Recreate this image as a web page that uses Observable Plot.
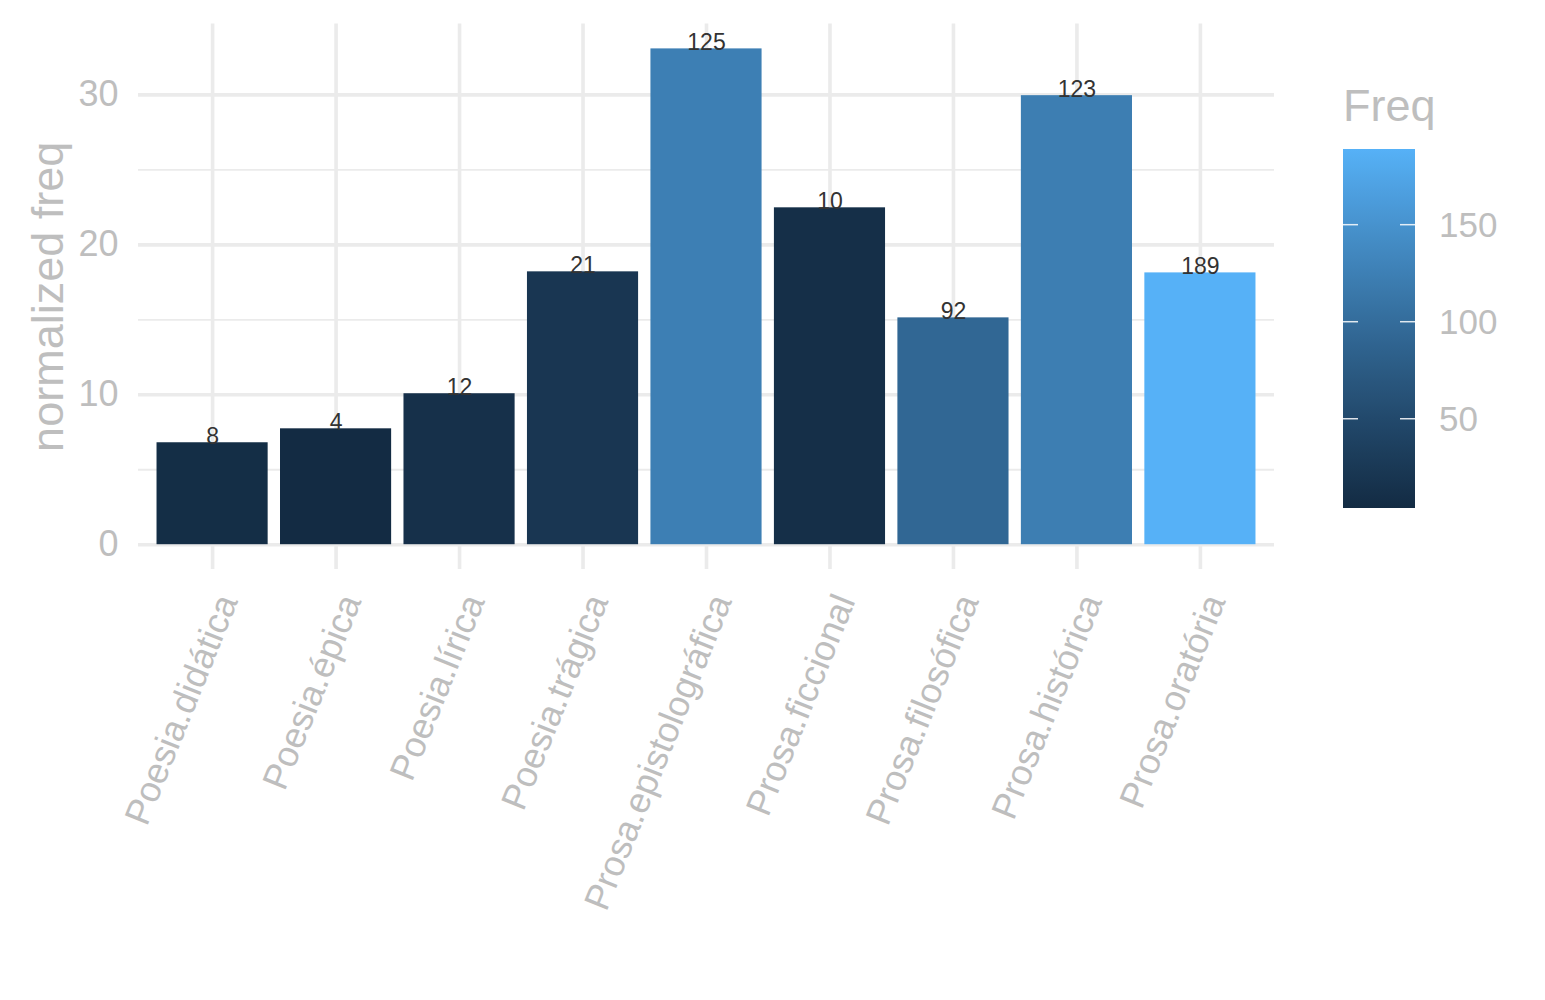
<!DOCTYPE html>
<html>
<head>
<meta charset="utf-8">
<script src="https://cdn.jsdelivr.net/npm/d3@7"></script>
<script src="https://cdn.jsdelivr.net/npm/@observablehq/plot@0.6"></script>
<style>
  html, body { margin: 0; padding: 0; background: #fff; }
  #wrap { position: relative; width: 1545px; height: 1000px; font-family: "Liberation Sans", Arial, Helvetica, sans-serif; }
  #wrap svg { position: absolute; left: 0; top: 0; }
</style>
</head>
<body>
<div id="wrap"></div>
<script>
const categories = ["Poesia.didática","Poesia.épica","Poesia.lírica","Poesia.trágica","Prosa.epistolográfica","Prosa.ficcional","Prosa.filosófica","Prosa.histórica","Prosa.oratória"];
const normFreq = [6.8, 7.73, 10.07, 18.2, 33.07, 22.47, 15.13, 29.95, 18.13];
const freq = [8, 4, 12, 21, 125, 10, 92, 123, 189];
const yTicks = [0, 10, 20, 30];
const yMinor = [5, 15, 25];
const legendTicks = [50, 100, 150];

const data = categories.map((c, i) => ({cat: c, y: normFreq[i], freq: freq[i]}));
const grey = "#BEBEBE";
const gridCol = "#EBEBEB";
const colorDomain = [d3.min(freq), d3.max(freq)];
const colorRange = ["#132B43", "#56B1F7"];

const W = 1545, H = 1000;
const mL = 138, mR = W - 1274, mT = 23.6, mB = H - 569;
const yMax = d3.max(normFreq), yPad = yMax * 0.05;

const chart = Plot.plot({
  width: W, height: H,
  marginLeft: mL, marginRight: mR, marginTop: mT, marginBottom: mB,
  style: {fontFamily: '"Liberation Sans", Arial, Helvetica, sans-serif', background: "transparent"},
  x: {type: "band", domain: categories, paddingInner: 0.1, paddingOuter: 0.15, round: false, label: null},
  y: {domain: [-yPad, yMax + yPad], label: null},
  color: {type: "linear", domain: colorDomain, range: colorRange, interpolate: "lab"},
  marks: [
    Plot.ruleY(yMinor, {stroke: gridCol, strokeWidth: 1.8}),
    Plot.ruleY(yTicks, {stroke: gridCol, strokeWidth: 3.6}),
    Plot.ruleX(categories, {x: d => d, stroke: gridCol, strokeWidth: 3.6}),
    Plot.barY(data, {x: "cat", y: "y", fill: "freq"}),
    Plot.text(data, {x: "cat", y: "y", text: d => String(d.freq), lineAnchor: "bottom", dy: 1, fontSize: 23, fill: "#333333"}),
    Plot.axisY(yTicks, {tickSize: 0, tickPadding: 20, fontSize: 36, color: grey, label: null}),
    Plot.axisX({tickSize: 0, tickPadding: 27, tickRotate: -68, dx: 15, fontSize: 36, color: grey, label: null}),
    Plot.text(["normalized freq"], {frameAnchor: "left", textAnchor: "middle", rotate: -90, lineAnchor: "bottom", dx: -76, fontSize: 45, fill: grey})
  ]
});
document.getElementById("wrap").appendChild(chart);

// Colorbar legend
const lg = d3.select("#wrap").append("svg").attr("width", W).attr("height", H)
  .style("font-family", '"Liberation Sans", Arial, Helvetica, sans-serif');
const bx = 1343, bw = 72, by0 = 149, by1 = 508;
const ly = d3.scaleLinear().domain(colorDomain).range([by1, by0]);
const grad = lg.append("defs").append("linearGradient").attr("id", "g").attr("x1", 0).attr("y1", 1).attr("x2", 0).attr("y2", 0);
const interp = d3.interpolateLab(...colorRange);
d3.range(0, 1.0001, 0.05).forEach(t => {
  grad.append("stop").attr("offset", t).attr("stop-color", interp(t));
});
lg.append("rect").attr("x", bx).attr("y", by0).attr("width", bw).attr("height", by1 - by0).attr("fill", "url(#g)");
legendTicks.forEach(t => {
  const y = ly(t);
  lg.append("line").attr("x1", bx).attr("x2", bx + 15).attr("y1", y).attr("y2", y).attr("stroke", "#fff").attr("stroke-width", 1.5).attr("opacity", 0.85);
  lg.append("line").attr("x1", bx + bw - 15).attr("x2", bx + bw).attr("y1", y).attr("y2", y).attr("stroke", "#fff").attr("stroke-width", 1.5).attr("opacity", 0.85);
  lg.append("text").attr("x", 1439).attr("y", y).attr("dy", "0.36em").attr("font-size", 35).attr("fill", grey).text(t);
});
lg.append("text").attr("x", 1343).attr("y", 121).attr("font-size", 45).attr("fill", grey).text("Freq");
</script>
</body>
</html>
